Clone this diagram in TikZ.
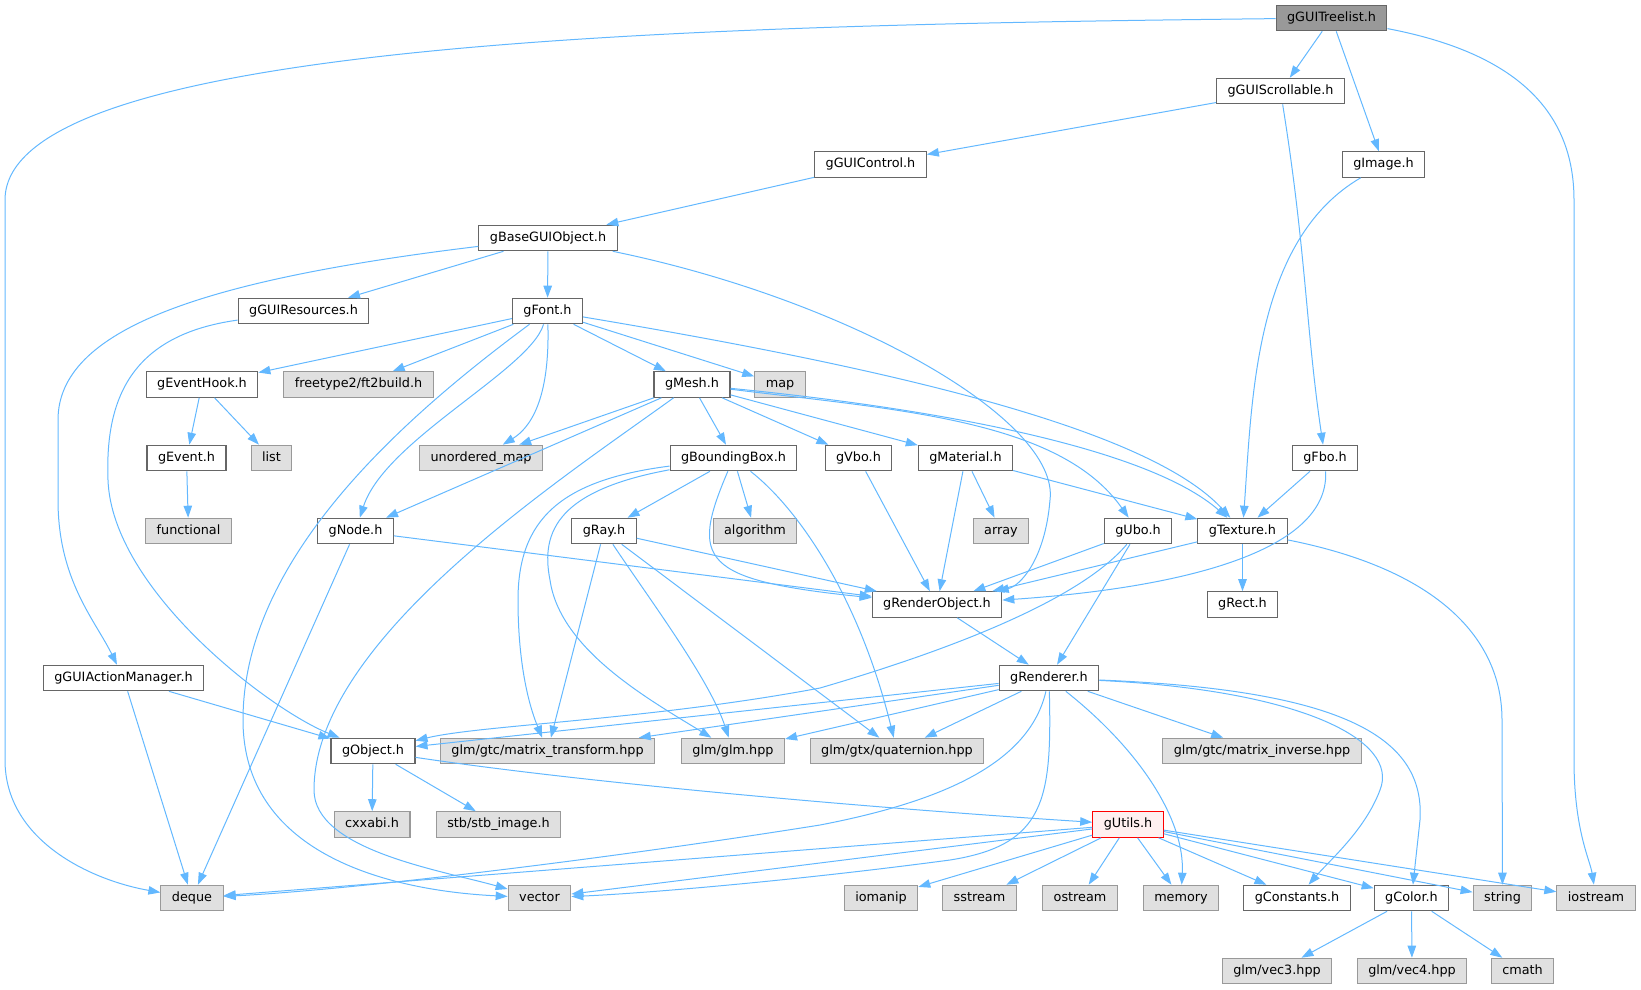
\documentclass[tikz,border=0pt]{standalone}
\usepackage{fontspec}
\setmainfont{DejaVu Sans}
\usepackage{tikz}
\usetikzlibrary{arrows.meta}
\definecolor{edgeblue}{HTML}{63B8FF}
\definecolor{boxline}{HTML}{666666}
\definecolor{sysfill}{HTML}{E0E0E0}
\definecolor{sysline}{HTML}{999999}
\definecolor{rootfill}{HTML}{999999}
\definecolor{cutfill}{HTML}{FFF0F0}
\newcommand{\clredge}{edgeblue}
\newcommand{\clrbox}{boxline}

\tikzset{
    hdr/.style={draw=\clrbox, fill=white, line width=1.1pt, minimum height=25.5pt,
        inner xsep=11pt, inner ysep=0pt, text height=9.5pt, text depth=2.8pt,
        font=\fontsize{12.8pt}{15pt}\selectfont},
    sys/.style={hdr, draw=sysline, fill=sysfill},
    root/.style={hdr, fill=rootfill},
    cut/.style={hdr, draw=red, fill=cutfill},
    inc/.style={draw=\clredge, line width=1pt, -{Triangle[length=12pt,width=8.5pt]}},
}

\begin{document}
\begin{tikzpicture}[x=1pt, y=-1pt]

        \useasboundingbox (0,0) rectangle (1641,989);

        \node[root] (treelist) at (1331.5,18) {gGUITreelist.h};
        \node[hdr] (scroll) at (1280.5,91) {gGUIScrollable.h};
        \node[hdr] (control) at (870.5,164.5) {gGUIControl.h};
        \node[hdr] (image) at (1383.5,164.5) {gImage.h};
        \node[hdr] (base) at (548,238) {gBaseGUIObject.h};
        \node[hdr] (res) at (303.5,311) {gGUIResources.h};
        \node[hdr] (font) at (547.5,311) {gFont.h};
        \node[hdr] (hook) at (202,384.5) {gEventHook.h};
        \node[sys] (ft) at (358.5,384.5) {freetype2/ft2build.h};
        \node[hdr] (mesh) at (692,384.5) {gMesh.h};
        \node[sys] (map) at (780,384.5) {map};
        \node[hdr] (event) at (186.5,458) {gEvent.h};
        \node[sys] (list) at (271.5,458) {list};
        \node[sys] (umap) at (481,458) {unordered\_map};
        \node[hdr] (bbox) at (733.5,458) {gBoundingBox.h};
        \node[hdr] (vbo) at (858.5,458) {gVbo.h};
        \node[hdr] (mat) at (965.5,458) {gMaterial.h};
        \node[hdr] (fbo) at (1325,458) {gFbo.h};
        \node[sys] (func) at (188.5,531) {functional};
        \node[hdr] (gnode) at (355.5,531) {gNode.h};
        \node[hdr] (ray) at (604,531) {gRay.h};
        \node[sys] (algo) at (755,531) {algorithm};
        \node[sys] (array) at (1001,531) {array};
        \node[hdr] (ubo) at (1138,531) {gUbo.h};
        \node[hdr] (tex) at (1242.5,531) {gTexture.h};
        \node[hdr] (robj) at (937,604.5) {gRenderObject.h};
        \node[hdr] (rect) at (1242.5,604.5) {gRect.h};
        \node[hdr] (actmgr) at (123.5,678) {gGUIActionManager.h};
        \node[hdr] (rend) at (1049,678) {gRenderer.h};
        \node[hdr] (obj) at (373,751) {gObject.h};
        \node[sys] (mtrans) at (547.5,751) {glm/gtc/matrix\_transform.hpp};
        \node[sys] (glm) at (733,751) {glm/glm.hpp};
        \node[sys] (quat) at (897,751) {glm/gtx/quaternion.hpp};
        \node[sys] (minv) at (1262,751) {glm/gtc/matrix\_inverse.hpp};
        \node[sys] (cxxabi) at (372,824.5) {cxxabi.h};
        \node[sys] (stb) at (498.5,824.5) {stb/stb\_image.h};
        \node[cut] (utils) at (1128,824.5) {gUtils.h};
        \node[sys] (deque) at (192,898) {deque};
        \node[sys] (vector) at (539.5,898) {vector};
        \node[sys] (iomanip) at (881,898) {iomanip};
        \node[sys] (sstream) at (979.5,898) {sstream};
        \node[sys] (ostream) at (1080,898) {ostream};
        \node[sys] (memory) at (1181,898) {memory};
        \node[hdr] (const) at (1297,898) {gConstants.h};
        \node[hdr] (color) at (1411.5,898) {gColor.h};
        \node[sys] (string) at (1502.5,898) {string};
        \node[sys] (iostream) at (1596,898) {iostream};
        \node[sys] (vec3) at (1277,971) {glm/vec3.hpp};
        \node[sys] (vec4) at (1412,971) {glm/vec4.hpp};
        \node[sys] (cmath) at (1522.5,971) {cmath};

        \foreach \v/\w in {treelist/scroll, treelist/image, scroll/control, control/base, base/res, base/font,
            font/hook, font/ft, font/mesh, font/map, hook/event, hook/list, event/func,
            mesh/umap, mesh/gnode, mesh/bbox, mesh/vbo, mesh/mat, bbox/ray, bbox/algo,
            ray/robj, ray/mtrans, ray/quat, gnode/robj, gnode/deque, vbo/robj, mat/robj, mat/array, mat/tex,
            fbo/tex, ubo/robj, ubo/rend, tex/robj, tex/rect, robj/rend, actmgr/obj, actmgr/deque,
            rend/obj, rend/mtrans, rend/glm, rend/quat, rend/minv, obj/cxxabi, obj/stb,
            utils/deque, utils/vector, utils/iomanip, utils/sstream, utils/ostream, utils/memory,
            utils/const, utils/color, utils/string, utils/iostream, color/vec3, color/vec4, color/cmath}
        {
            \draw[inc] (\v) -- (\w);
        }

        \draw[inc] (treelist) .. controls (700,25) and (5,40) .. (5,200) -- (5,760) .. controls (5,840) and (90,880) .. (deque);
        \draw[inc] (treelist) .. controls (1500,50) and (1574,100) .. (1574,200) -- (1574,760) .. controls (1574,830) and (1590,860) .. (iostream);
        \draw[inc] (scroll) .. controls (1306,250) and (1306,330) .. (fbo);
        \draw[inc] (image) .. controls (1254,240) and (1252,400) .. (tex);
        \draw[inc] (base) .. controls (200,280) and (58,330) .. (58,420) -- (58,500) .. controls (58,580) and (95,620) .. (actmgr);
        \draw[inc] (base) .. controls (850,300) and (1060,420) .. (1050,500) .. controls (1045,560) and (1020,586) .. (robj);
        \draw[inc] (res) .. controls (130,335) and (105,400) .. (108,480) .. controls (112,590) and (270,710) .. (obj);
        \draw[inc] (font) .. controls (400,420) and (243,560) .. (243,720) .. controls (243,850) and (380,890) .. (vector);
        \draw[inc] (font) .. controls (530,370) and (385,440) .. (gnode);
        \draw[inc] (font) .. controls (550,400) and (530,428) .. (umap);
        \draw[inc] (font) .. controls (900,370) and (1150,430) .. (tex);
        \draw[inc] (mesh) .. controls (560,480) and (314,640) .. (314,790) .. controls (314,850) and (440,870) .. (vector);
        \draw[inc] (mesh) .. controls (900,410) and (1060,420) .. (ubo);
        \draw[inc] (mesh) .. controls (950,410) and (1150,450) .. (tex);
        \draw[inc] (bbox) .. controls (690,560) and (700,580) .. (robj);
        \draw[inc] (bbox) .. controls (560,480) and (518,520) .. (518,600) .. controls (518,680) and (535,720) .. (mtrans);
        \draw[inc] (bbox) .. controls (560,490) and (540,530) .. (550,580) .. controls (560,650) and (650,700) .. (glm);
        \draw[inc] (bbox) .. controls (800,510) and (860,600) .. (quat);
        \draw[inc] (ray) .. controls (650,600) and (710,680) .. (glm);
        \draw[inc] (fbo) .. controls (1330,560) and (1150,590) .. (robj);
        \draw[inc] (ubo) .. controls (1080,600) and (950,650) .. (820,688) .. controls (650,720) and (480,725) .. (obj);
        \draw[inc] (tex) .. controls (1440,570) and (1502,640) .. (1502,720) -- (string);
        \draw[inc] (rend) .. controls (1030,760) and (950,800) .. (820,825) .. controls (600,860) and (350,890) .. (deque);
        \draw[inc] (rend) .. controls (1052,800) and (1045,845) .. (950,860) .. controls (800,880) and (650,893) .. (vector);
        \draw[inc] (rend) .. controls (1140,750) and (1185,820) .. (memory);
        \draw[inc] (rend) .. controls (1300,690) and (1400,740) .. (1380,790) .. controls (1365,830) and (1330,860) .. (const);
        \draw[inc] (rend) .. controls (1350,690) and (1425,740) .. (1420,820) -- (color);
        \draw[inc] (obj) .. controls (600,785) and (900,810) .. (utils);

    \end{tikzpicture}
\end{document}
